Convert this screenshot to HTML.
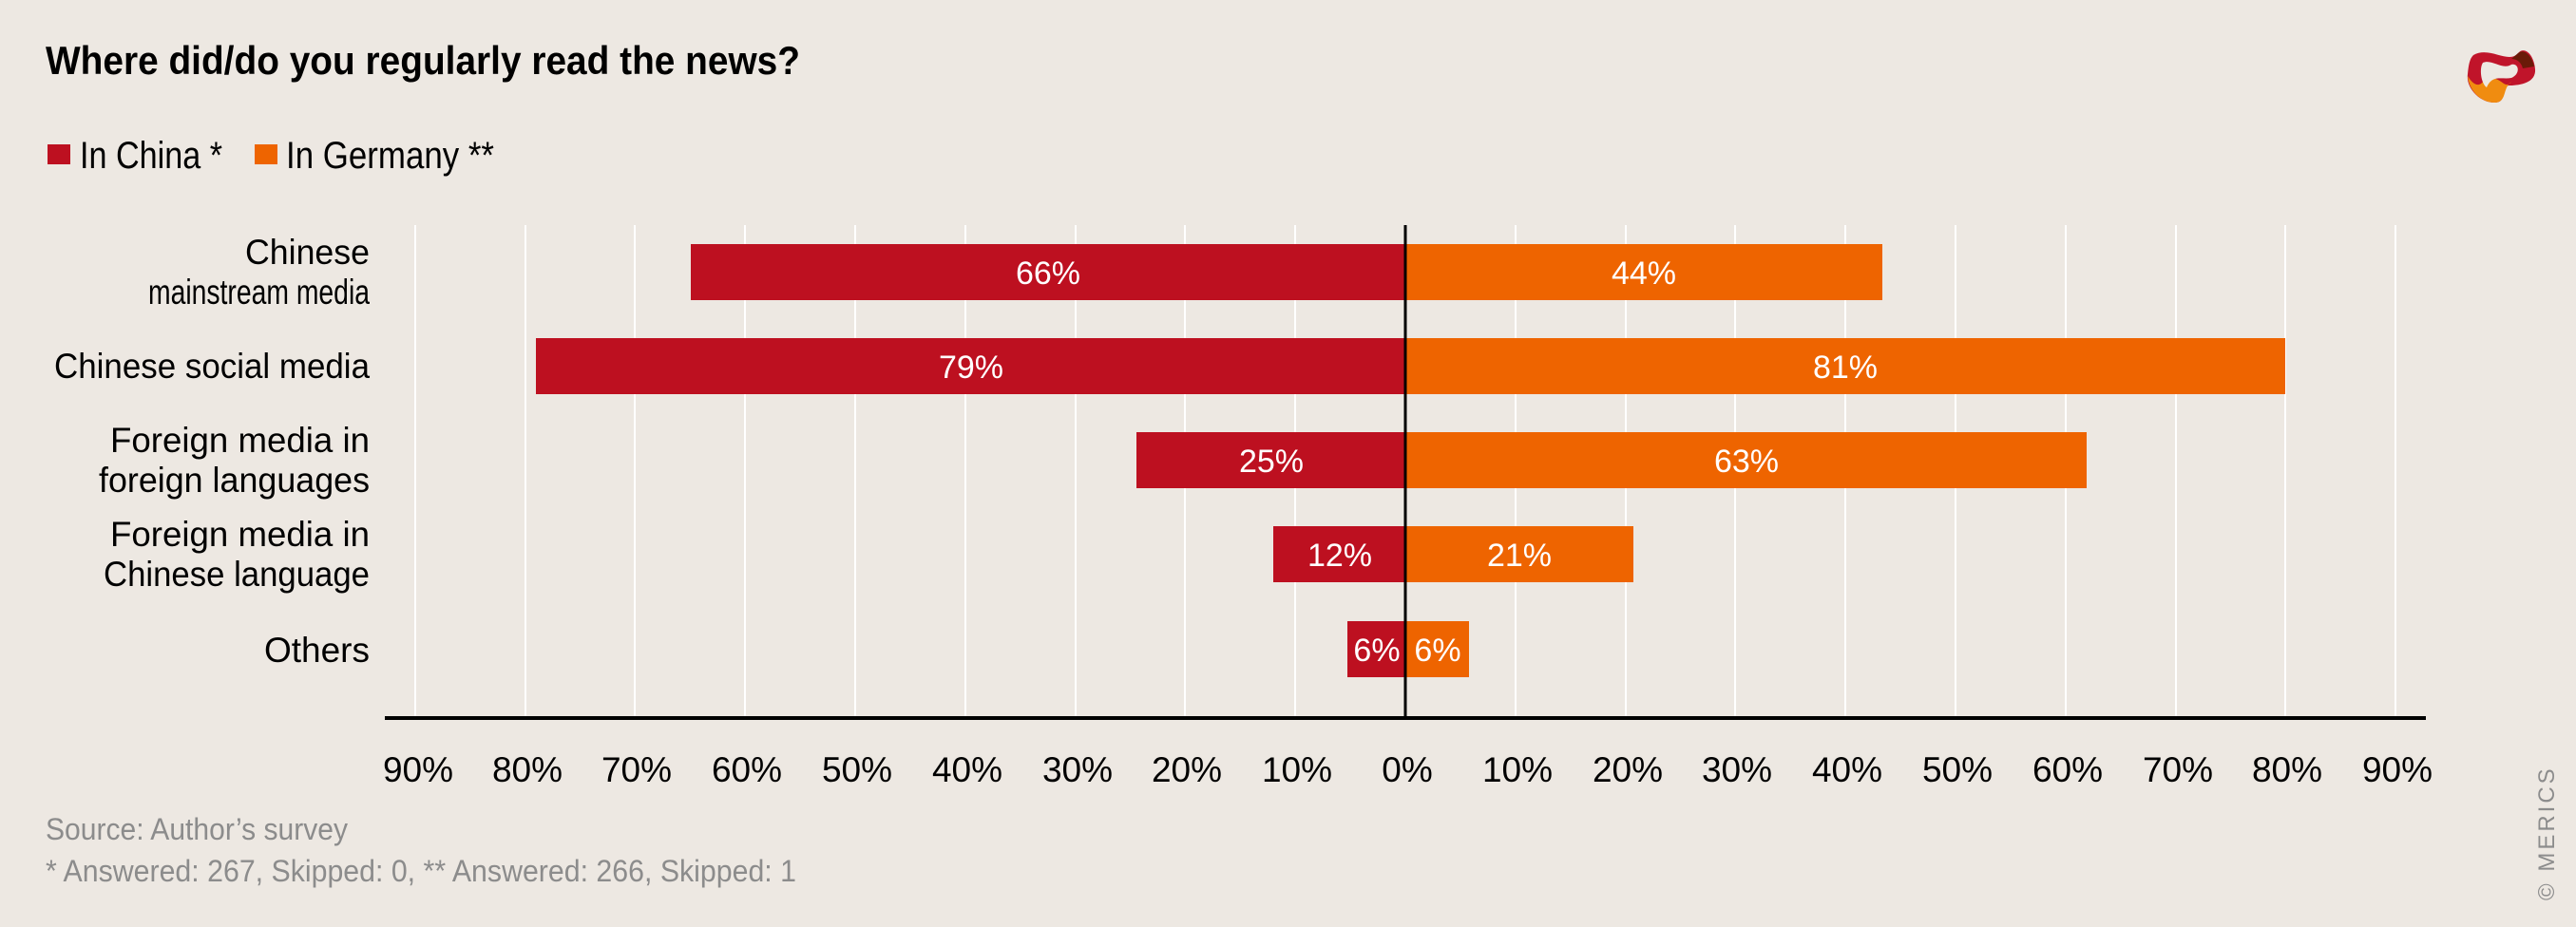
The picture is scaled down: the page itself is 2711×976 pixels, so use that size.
<!DOCTYPE html>
<html><head><meta charset="utf-8"><style>
html,body{margin:0;padding:0;background:#ede8e2;}
svg{display:block;}
text{font-family:"Liberation Sans Narrow","Liberation Sans",sans-serif;}
</style></head><body>
<svg width="2711" height="976" viewBox="0 0 2711 976" xmlns="http://www.w3.org/2000/svg">
<rect width="2711" height="976" fill="#ede8e2"/>
<text x="48" y="78" font-size="42" font-weight="bold" fill="#000" textLength="794" lengthAdjust="spacingAndGlyphs">Where did/do you regularly read the news?</text>
<rect x="50" y="152" width="24" height="21" fill="#bd1020"/>
<text x="84" y="177" font-size="40" fill="#000" textLength="150" lengthAdjust="spacingAndGlyphs">In China *</text>
<rect x="268" y="152" width="24" height="21" fill="#ee6400"/>
<text x="301" y="177" font-size="40" fill="#000" textLength="219" lengthAdjust="spacingAndGlyphs">In Germany **</text>
<g stroke="#ffffff" stroke-width="2">
<line x1="437" y1="237" x2="437" y2="754"/><line x1="553" y1="237" x2="553" y2="754"/>
<line x1="668" y1="237" x2="668" y2="754"/><line x1="784" y1="237" x2="784" y2="754"/>
<line x1="900" y1="237" x2="900" y2="754"/><line x1="1016" y1="237" x2="1016" y2="754"/>
<line x1="1132" y1="237" x2="1132" y2="754"/><line x1="1247" y1="237" x2="1247" y2="754"/>
<line x1="1363" y1="237" x2="1363" y2="754"/>
<line x1="1595" y1="237" x2="1595" y2="754"/><line x1="1711" y1="237" x2="1711" y2="754"/>
<line x1="1826" y1="237" x2="1826" y2="754"/><line x1="1942" y1="237" x2="1942" y2="754"/>
<line x1="2058" y1="237" x2="2058" y2="754"/><line x1="2174" y1="237" x2="2174" y2="754"/>
<line x1="2290" y1="237" x2="2290" y2="754"/><line x1="2405" y1="237" x2="2405" y2="754"/>
<line x1="2521" y1="237" x2="2521" y2="754"/>
</g>
<g>
<rect x="727" y="257" width="752" height="59" fill="#bd1020"/><rect x="1479" y="257" width="502" height="59" fill="#ee6400"/>
<rect x="564" y="356" width="915" height="59" fill="#bd1020"/><rect x="1479" y="356" width="926" height="59" fill="#ee6400"/>
<rect x="1196" y="455" width="283" height="59" fill="#bd1020"/><rect x="1479" y="455" width="717" height="59" fill="#ee6400"/>
<rect x="1340" y="554" width="139" height="59" fill="#bd1020"/><rect x="1479" y="554" width="240" height="59" fill="#ee6400"/>
<rect x="1418" y="654" width="61" height="59" fill="#bd1020"/><rect x="1479" y="654" width="67" height="59" fill="#ee6400"/>
</g>
<g font-size="34" fill="#fff" text-anchor="middle">
<text x="1103" y="299">66%</text><text x="1730" y="299">44%</text>
<text x="1022" y="398">79%</text><text x="1942" y="398">81%</text>
<text x="1338" y="497">25%</text><text x="1838" y="497">63%</text>
<text x="1410" y="596">12%</text><text x="1599" y="596">21%</text>
<text x="1449" y="696">6%</text><text x="1513" y="696">6%</text>
</g>
<line x1="1479" y1="237" x2="1479" y2="756" stroke="#000" stroke-width="3"/>
<line x1="405" y1="756" x2="2553" y2="756" stroke="#000" stroke-width="4"/>
<g font-size="37" fill="#000" lengthAdjust="spacingAndGlyphs">
<text x="258" y="278" textLength="131" lengthAdjust="spacingAndGlyphs">Chinese</text>
<text x="156" y="320" textLength="233" lengthAdjust="spacingAndGlyphs">mainstream media</text>
<text x="57" y="398" textLength="332" lengthAdjust="spacingAndGlyphs">Chinese social media</text>
<text x="116" y="476" textLength="273" lengthAdjust="spacingAndGlyphs">Foreign media in</text>
<text x="104" y="518" textLength="285" lengthAdjust="spacingAndGlyphs">foreign languages</text>
<text x="116" y="575" textLength="273" lengthAdjust="spacingAndGlyphs">Foreign media in</text>
<text x="109" y="617" textLength="280" lengthAdjust="spacingAndGlyphs">Chinese language</text>
<text x="278" y="697" textLength="111" lengthAdjust="spacingAndGlyphs">Others</text>
</g>
<g font-size="37" fill="#000" text-anchor="middle">
<text x="440" y="823">90%</text><text x="555" y="823">80%</text><text x="670" y="823">70%</text>
<text x="786" y="823">60%</text><text x="902" y="823">50%</text><text x="1018" y="823">40%</text>
<text x="1134" y="823">30%</text><text x="1249" y="823">20%</text><text x="1365" y="823">10%</text>
<text x="1481" y="823">0%</text>
<text x="1597" y="823">10%</text><text x="1713" y="823">20%</text><text x="1828" y="823">30%</text>
<text x="1944" y="823">40%</text><text x="2060" y="823">50%</text><text x="2176" y="823">60%</text>
<text x="2292" y="823">70%</text><text x="2407" y="823">80%</text><text x="2523" y="823">90%</text>
</g>
<text x="48" y="884" font-size="32" fill="#8c8c8c" textLength="318" lengthAdjust="spacingAndGlyphs">Source: Author’s survey</text>
<text x="48" y="928" font-size="32" fill="#8c8c8c" textLength="790" lengthAdjust="spacingAndGlyphs">* Answered: 267, Skipped: 0, ** Answered: 266, Skipped: 1</text>
<text transform="translate(2688,948) rotate(-90)" font-size="24" fill="#8c8c8c" letter-spacing="3">© MERICS</text>
<g transform="translate(2595,48)">
<path d="M8,10 C25,0 45,20 55,8 C62,0 72,10 73,25 C74,40 55,42 45,42 C35,45 45,60 30,60 C15,60 0,45 2,30 C3,20 4,14 8,10 Z" fill="#c0142a"/>
<path d="M2,32 C4,50 18,60 30,60 C44,60 38,45 48,38 C40,48 38,30 20,35 C15,45 8,42 2,32 Z" fill="#f08c10"/>
<path d="M55,8 C62,2 70,12 72,22 L60,24 C58,16 52,14 48,14 Z" fill="#6a1a08"/>
<path d="M18,18 C28,14 38,26 48,20 C56,18 58,30 48,34 C38,36 28,30 22,44 C16,40 14,24 18,18 Z" fill="#ede8e2"/>
</g>
</svg>
</body></html>
